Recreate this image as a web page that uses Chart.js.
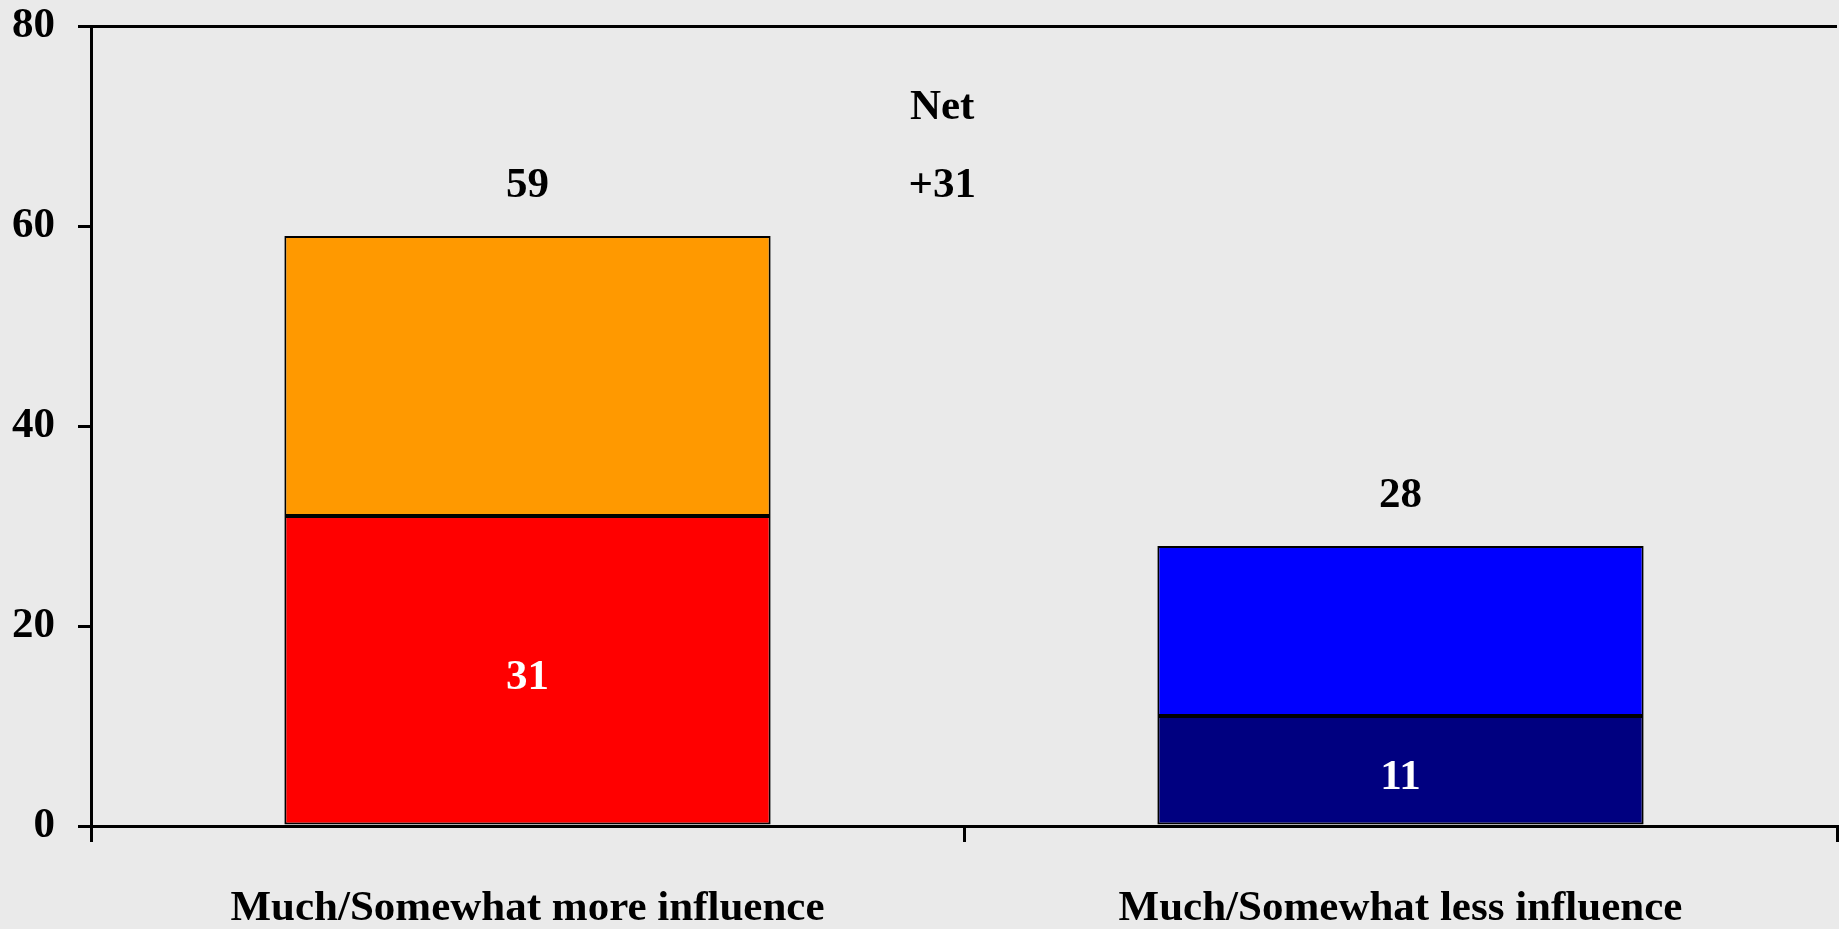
<!DOCTYPE html>
<html>
<head>
<meta charset="utf-8">
<script src="https://cdn.jsdelivr.net/npm/chart.js@4"></script>
<style>
  html, body { margin: 0; padding: 0; background: #eaeaea; }
  #wrap { width: 1839px; height: 929px; position: relative; }
</style>
</head>
<body>
<div id="wrap"><canvas id="influenceChart"></canvas></div>
<script>
let xCategories = ["Much/Somewhat more influence", "Much/Somewhat less influence"];
let yMuch = [31, 11];
let ySomewhat = [28, 17];
let muchColors = ["#ff0000", "#000080"];
let somewhatColors = ["#ff9900", "#0000ff"];
let yTicks = [0, 20, 40, 60, 80];
let netLabel = "Net";

let totals = [];
for (let i = 0; i < xCategories.length; i++) {
    totals[i] = yMuch[i] + ySomewhat[i];
}
let netValue = totals[0] - totals[1];

const fontName = "'Liberation Serif', 'Times New Roman', serif";

// value labels + the "Net" note
const labelPlugin = {
    id: "labels",
    afterDatasetsDraw(chart) {
        let ctx = chart.ctx;
        ctx.save();
        ctx.font = "bold 43px " + fontName;
        ctx.textAlign = "center";
        ctx.textBaseline = "middle";

        let inner = chart.getDatasetMeta(0).data;
        inner.forEach(function (bar, i) {
            ctx.fillStyle = "#ffffff";
            ctx.fillText(yMuch[i], bar.x, (bar.y + bar.base) / 2 + 8);
        });

        let top = chart.getDatasetMeta(1).data;
        top.forEach(function (bar, i) {
            ctx.fillStyle = "#000000";
            ctx.fillText(totals[i], bar.x, bar.y - 50);
        });

        let x = chart.scales.x.getPixelForValue(0.475);
        ctx.fillStyle = "#000000";
        ctx.fillText(netLabel, x, chart.scales.y.getPixelForValue(71.8));
        ctx.fillText((netValue > 0 ? "+" : "") + netValue, x, chart.scales.y.getPixelForValue(64));
        ctx.restore();
    }
};

let influenceChart = new Chart("influenceChart", {
    type: "bar",
    data: {
        labels: xCategories,
        datasets: [
            {
                label: "Much",
                data: yMuch,
                backgroundColor: muchColors,
                borderColor: "#000000",
                borderWidth: 2,
                borderSkipped: false,
            },
            {
                label: "Somewhat",
                data: ySomewhat,
                backgroundColor: somewhatColors,
                borderColor: "#000000",
                borderWidth: 2,
                borderSkipped: false,
            },
        ],
    },
    options: {
        responsive: true,
        maintainAspectRatio: false,
        animation: false,
        layout: { padding: { top: 26, right: 2, left: 0, bottom: 0 } },
        datasets: { bar: { categoryPercentage: 1, barPercentage: 0.557 } },
        plugins: {
            legend: { display: false },
            tooltip: { enabled: false },
        },
        scales: {
            x: {
                stacked: true,
                grid: {
                    offset: true,
                    drawOnChartArea: false,
                    tickLength: 16,
                    tickColor: "#000000",
                    lineWidth: 3,
                },
                border: { color: "#000000", width: 3 },
                ticks: {
                    color: "#000000",
                    padding: 41,
                    maxRotation: 0,
                    font: { family: fontName, size: 43, weight: "bold" },
                },
                afterFit(scale) { scale.height = 103; },
            },
            y: {
                stacked: true,
                min: yTicks[0],
                max: yTicks[yTicks.length - 1],
                afterBuildTicks(scale) {
                    scale.ticks = yTicks.map(function (v) { return { value: v }; });
                },
                grid: {
                    color: function (c) { return c.tick && c.tick.value === 80 ? "#000000" : "transparent"; },
                    tickColor: "#000000",
                    tickLength: 13,
                    lineWidth: 3,
                },
                border: { color: "#000000", width: 3 },
                ticks: {
                    color: "#000000",
                    padding: 23,
                    font: { family: fontName, size: 43, weight: "bold" },
                },
                afterFit(scale) {
                    scale.width = 91;
                    scale.paddingTop = 0;
                    scale.paddingBottom = 0;
                },
            },
        },
    },
    plugins: [labelPlugin],
});
</script>
</body>
</html>
